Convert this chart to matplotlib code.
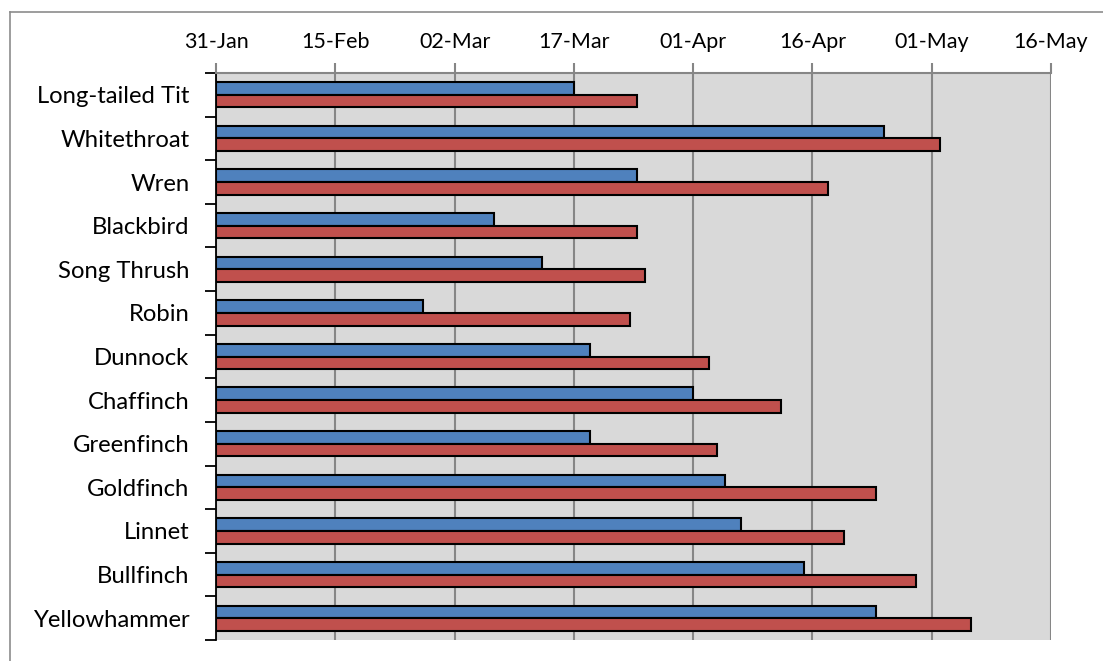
import matplotlib
matplotlib.use("Agg")
import matplotlib.pyplot as plt
import matplotlib.dates as mdates
import numpy as np
from datetime import date

plt.rcParams['font.family'] = ['Lato', 'DejaVu Sans']

species = ["Long-tailed Tit", "Whitethroat", "Wren", "Blackbird", "Song Thrush",
           "Robin", "Dunnock", "Chaffinch", "Greenfinch", "Goldfinch", "Linnet",
           "Bullfinch", "Yellowhammer"]
first_dates = ["2015-03-17", "2015-04-25", "2015-03-25", "2015-03-07", "2015-03-13",
               "2015-02-26", "2015-03-19", "2015-04-01", "2015-03-19", "2015-04-05",
               "2015-04-07", "2015-04-15", "2015-04-24"]
second_dates = ["2015-03-25", "2015-05-02", "2015-04-18", "2015-03-25", "2015-03-26",
                "2015-03-24", "2015-04-03", "2015-04-12", "2015-04-04", "2015-04-24",
                "2015-04-20", "2015-04-29", "2015-05-06"]
tick_dates = ["2015-01-31", "2015-02-15", "2015-03-02", "2015-03-17", "2015-04-01",
              "2015-04-16", "2015-05-01", "2015-05-16"]

base = mdates.date2num(date(2015, 1, 31))
blue = mdates.datestr2num(first_dates) - base
red = mdates.datestr2num(second_dates) - base
ticks = mdates.datestr2num(tick_dates)

fig = plt.figure(figsize=(11.03, 6.61), dpi=100)
ax = fig.add_axes([216 / 1103, 21 / 661, 835 / 1103, 567 / 661])
ax.set_facecolor('#d9d9d9')

y = np.arange(len(species))
h = 0.29
ax.barh(y - h / 2, blue, height=h, left=base, color='#4f81bd',
        edgecolor='black', linewidth=1.5, zorder=3)
ax.barh(y + h / 2, red, height=h, left=base, color='#c0504d',
        edgecolor='black', linewidth=1.5, zorder=3)

ax.set_xlim(ticks[0], ticks[-1])
ax.set_ylim(len(species) - 0.5, -0.5)

ax.xaxis.tick_top()
ax.set_xticks(ticks)
ax.xaxis.set_major_formatter(mdates.DateFormatter('%d-%b'))
ax.tick_params(axis='x', length=7, width=1.5, color='#868686', labelsize=15.5,
               pad=8, labelcolor='black')
ax.grid(axis='x', color='#868686', linewidth=1.5, zorder=1)

ax.set_yticks(y)
ax.set_yticklabels(species)
ax.set_yticks(np.arange(len(species) + 1) - 0.5, minor=True)
ax.tick_params(axis='y', which='major', length=0, labelsize=17.2, pad=19)
ax.tick_params(axis='y', which='minor', length=8, width=1.3, color='black')

for side in ['right', 'bottom']:
    ax.spines[side].set_visible(False)
ax.spines['top'].set_color('#868686')
ax.spines['top'].set_linewidth(1.5)
ax.spines['left'].set_color('black')
ax.spines['left'].set_linewidth(1.3)

# chart frame
fig.add_artist(plt.Line2D([10 / 1103, 10 / 1103], [0, 1 - 12 / 661],
                          color='#8c8c8c', linewidth=1.2))
fig.add_artist(plt.Line2D([10 / 1103, 1], [1 - 12 / 661, 1 - 12 / 661],
                          color='#8c8c8c', linewidth=1.2))

fig.savefig('out.png', dpi=100)
